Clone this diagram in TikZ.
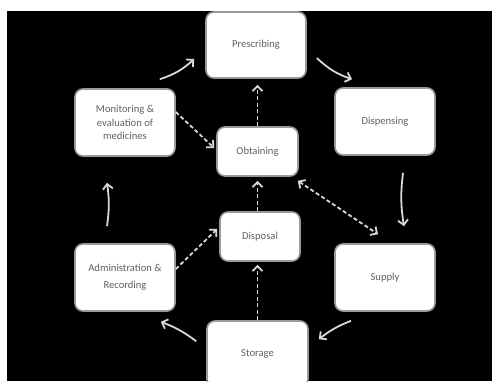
\documentclass[tikz,border=0pt]{standalone}
\usepackage{fontspec}
\setmainfont{Carlito}
\usetikzlibrary{arrows.meta,calc}
\definecolor{txt}{HTML}{606060}
\definecolor{edge}{HTML}{9A9A9A}
\definecolor{arr}{HTML}{D8D8D8}
\begin{document}
\begin{tikzpicture}[x=1pt,y=-1pt,
 box/.style={draw=edge, fill=white, line width=1.6pt, rounded corners=8pt, text=txt,
   font=\fontsize{10.6}{13.5}\selectfont, align=center, inner sep=0pt},
 flow/.style={draw=arr, line width=1.8pt, -{Straight Barb[length=5pt,width=10pt]}},
 dflow/.style={flow, dash pattern=on 4pt off 2.5pt},
]
\useasboundingbox (0,0) rectangle (492,381);
\clip (0,0) rectangle (492,381);
\fill[white] (0,0) rectangle (492,381);
\fill[black] (7,11) rectangle (492,381);

\node[box, minimum width=100pt, minimum height=66pt] (pre) at (256,45) {Prescribing};
\node[box, minimum width=100pt, minimum height=67pt] (dis) at (385,121.5) {Dispensing};
\node[box, minimum width=100pt, minimum height=67pt] (mon) at (125,122.5) {Monitoring \&\\evaluation of\\medicines};
\node[box, minimum width=81pt, minimum height=49pt] (obt) at (257.5,151.5) {Obtaining};
\node[box, minimum width=80pt, minimum height=49pt] (dsp) at (260,236.5) {Disposal};
\node[box, minimum width=100pt, minimum height=67pt] (sup) at (385,277.5) {Supply};
\node[box, minimum width=100pt, minimum height=67pt, font=\fontsize{10.6}{17}\selectfont] (adm) at (125,277.5) {Administration \&\\Recording};
\node[box, minimum width=101pt, minimum height=66pt] (sto) at (257.5,354) {Storage};

% solid cycle arrows
\draw[flow] ($(mon.north east)+(-16,-9)$) to[bend right=12] ($(pre.west)+(-11,14)$);
\draw[flow] ($(pre.east)+(10,13)$) to[bend right=12] ($(dis.north)+(-33,-8)$);
\draw[flow] ($(dis.south)+(18,17)$) to[bend right=8] ($(sup.north)+(19,-17)$);
\draw[flow] ($(sup.south)+(-34,9)$) to[bend right=8] ($(sto.north east)+(10,19)$);
\draw[flow] ($(sto.north west)+(-10,21)$) to[bend right=8] ($(adm.south east)+(-15,10)$);
\draw[flow] ($(adm.north)+(-18,-17)$) to[bend right=8] ($(mon.south)+(-18,26)$);

% dashed arrows
\draw[dflow] ($(mon.east)+(0,-10.5)$) -- ($(obt.west)+(-2,-3.5)$);
\draw[dflow] (obt.north) -- ($(obt.north |- pre.south)+(0,6)$);
\draw[dflow] (obt.south |- dsp.north) -- ($(obt.south)+(0,4)$);
\draw[dflow, {Straight Barb[length=5pt,width=10pt]}-{Straight Barb[length=5pt,width=10pt]}] ($(obt.south east)+(-1,4)$) -- ($(sup.north)+(-7,-9)$);
\draw[dflow] ($(adm.east)+(0,-8.5)$) -- ($(dsp.west)+(-2,-7.5)$);
\draw[dflow] (sto.north) -- ($(sto.north |- dsp.south)+(0,3)$);
\end{tikzpicture}
\end{document}
